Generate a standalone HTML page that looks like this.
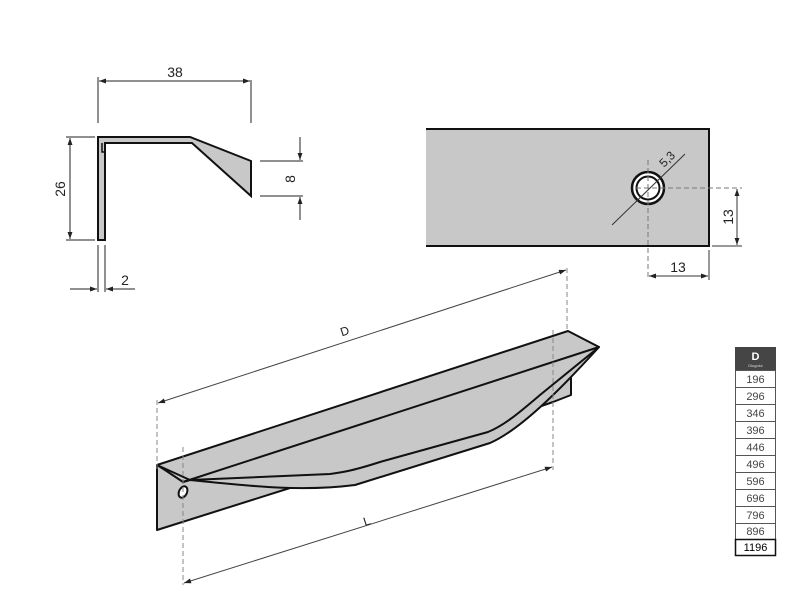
<!DOCTYPE html><html><head><style>body{margin:0;background:#fff}svg{display:block}text{font-family:"Liberation Sans",sans-serif;fill:#222}</style></head><body>
<svg width="800" height="600" viewBox="0 0 800 600" xmlns="http://www.w3.org/2000/svg">
<defs><marker id="a" viewBox="0 0 10 10" refX="10" refY="5" markerWidth="9" markerHeight="7" orient="auto-start-reverse" markerUnits="userSpaceOnUse"><path d="M0,1.5L10,5L0,8.5z" fill="#222"/></marker></defs>
<g stroke="#222" stroke-width="1" fill="none">
<line x1="98" y1="77" x2="98" y2="123"/><line x1="251" y1="80" x2="251" y2="123"/>
<line x1="99" y1="81" x2="250" y2="81" marker-start="url(#a)" marker-end="url(#a)"/>
<line x1="66" y1="137" x2="95" y2="137"/><line x1="66" y1="240" x2="95" y2="240"/>
<line x1="70" y1="138" x2="70" y2="239" marker-start="url(#a)" marker-end="url(#a)"/>
<line x1="260" y1="161" x2="303" y2="161"/><line x1="260" y1="196" x2="303" y2="196"/>
<line x1="300" y1="137" x2="300" y2="160" marker-end="url(#a)"/><line x1="300" y1="220" x2="300" y2="197" marker-end="url(#a)"/>
<line x1="98" y1="245" x2="98" y2="292"/><line x1="105" y1="245" x2="105" y2="292"/>
<line x1="70" y1="289" x2="97" y2="289" marker-end="url(#a)"/><line x1="135" y1="289" x2="106" y2="289" marker-end="url(#a)"/>
</g>
<path d="M98,137L190,137L251,161L251,196L192,143L105,143L105,240L98,240Z" fill="#c8c8c8" stroke="#111" stroke-width="2"/>
<path d="M102,143L102,152L105,152" fill="none" stroke="#111" stroke-width="1.5"/>
<text x="175" y="77" font-size="14" text-anchor="middle">38</text>
<text transform="translate(65,189) rotate(-90)" font-size="14" text-anchor="middle">26</text>
<text transform="translate(295,179) rotate(-90)" font-size="14" text-anchor="middle">8</text>
<text x="125" y="285" font-size="14" text-anchor="middle">2</text>
<rect x="426" y="129" width="283" height="117" fill="#c8c8c8"/>
<path d="M426,129H709V246H426" fill="none" stroke="#111" stroke-width="2"/>
<circle cx="648" cy="188" r="16" fill="#fff" stroke="#111" stroke-width="2.5"/>
<circle cx="648" cy="188" r="11.5" fill="#fff" stroke="#111" stroke-width="2"/>
<g stroke="#333" stroke-width="1" fill="none">
<line x1="612" y1="225" x2="685" y2="154"/>
<line x1="648" y1="160" x2="648" y2="278" stroke-dasharray="5,3" stroke="#777"/>
<line x1="636" y1="188" x2="742" y2="188" stroke-dasharray="5,3" stroke="#777"/>
<line x1="712" y1="246" x2="742" y2="246"/><line x1="709" y1="250" x2="709" y2="280"/>
<line x1="737" y1="189" x2="737" y2="245" marker-start="url(#a)" marker-end="url(#a)"/>
<line x1="649" y1="276" x2="708" y2="276" marker-start="url(#a)" marker-end="url(#a)"/>
</g>
<text transform="translate(670,162) rotate(-45)" font-size="12" text-anchor="middle">5,3</text>
<text transform="translate(733,217) rotate(-90)" font-size="14" text-anchor="middle">13</text>
<text x="678" y="272" font-size="14" text-anchor="middle">13</text>
<path d="M157,465L157,530L290,488L400,455L553,402L571,395L571,378L500,400Z" fill="#c8c8c8" stroke="#111" stroke-width="2" stroke-linejoin="round"/>
<path d="M190,480C250,486 300,492 355,485L490,443C520,430 560,390 599,347L183,482Z" fill="#c8c8c8" stroke="#111" stroke-width="2" stroke-linejoin="round"/>
<path d="M157,465L568,331L599,347L540,395C520,412 505,425 488,432L380,462C355,470 345,472 330,474L190,480Z" fill="#c8c8c8" stroke="#111" stroke-width="2" stroke-linejoin="round"/>
<path d="M183,482L599,347" stroke="#111" stroke-width="2" fill="none"/>
<path d="M157,465L165,470L183,482" stroke="#111" stroke-width="2" fill="none"/>
<ellipse cx="183" cy="492" rx="4" ry="6" transform="rotate(25 183 492)" fill="#fff" stroke="#111" stroke-width="2"/>
<g stroke="#444" stroke-width="1" fill="none">
<line x1="157" y1="400" x2="157" y2="470" stroke-dasharray="5,3" stroke="#888"/>
<line x1="183" y1="447" x2="183" y2="585" stroke-dasharray="5,3" stroke="#888"/>
<line x1="553" y1="330" x2="553" y2="470" stroke-dasharray="5,3" stroke="#888"/>
<line x1="567" y1="268" x2="567" y2="332" stroke-dasharray="5,3" stroke="#888"/>
<line x1="158" y1="403" x2="566" y2="270" marker-start="url(#a)" marker-end="url(#a)"/>
<line x1="184" y1="583" x2="552" y2="467" marker-start="url(#a)" marker-end="url(#a)"/>
</g>
<text transform="translate(346,335) rotate(-18)" font-size="12" text-anchor="middle">D</text>
<text transform="translate(368,525) rotate(-18)" font-size="12" text-anchor="middle">L</text>
<rect x="735" y="347" width="41" height="23" fill="#454545"/>
<text x="755.5" y="360" font-size="11" font-weight="bold" text-anchor="middle" style="fill:#fff">D</text>
<text x="755.5" y="367" font-size="4" text-anchor="middle" style="fill:#ddd">Dlugość</text>
<g font-size="11" text-anchor="middle">
<g fill="#fff" stroke="#555" stroke-width="1">
<rect x="735.5" y="370.5" width="40" height="17"/><rect x="735.5" y="387.5" width="40" height="17"/><rect x="735.5" y="404.5" width="40" height="17"/><rect x="735.5" y="421.5" width="40" height="17"/><rect x="735.5" y="438.5" width="40" height="17"/><rect x="735.5" y="455.5" width="40" height="17"/><rect x="735.5" y="472.5" width="40" height="17"/><rect x="735.5" y="489.5" width="40" height="17"/><rect x="735.5" y="506.5" width="40" height="17"/><rect x="735.5" y="523.5" width="40" height="16"/>
<rect x="735.5" y="539.5" width="40" height="16" stroke="#111" stroke-width="1.5"/>
</g>
<text x="755.5" y="383" style="fill:#444">196</text><text x="755.5" y="400" style="fill:#444">296</text><text x="755.5" y="417" style="fill:#444">346</text><text x="755.5" y="434" style="fill:#444">396</text><text x="755.5" y="451" style="fill:#444">446</text><text x="755.5" y="468" style="fill:#444">496</text><text x="755.5" y="485" style="fill:#444">596</text><text x="755.5" y="502" style="fill:#444">696</text><text x="755.5" y="519" style="fill:#444">796</text><text x="755.5" y="535" style="fill:#444">896</text><text x="755.5" y="551" style="fill:#000">1196</text>
</g>
</svg></body></html>
